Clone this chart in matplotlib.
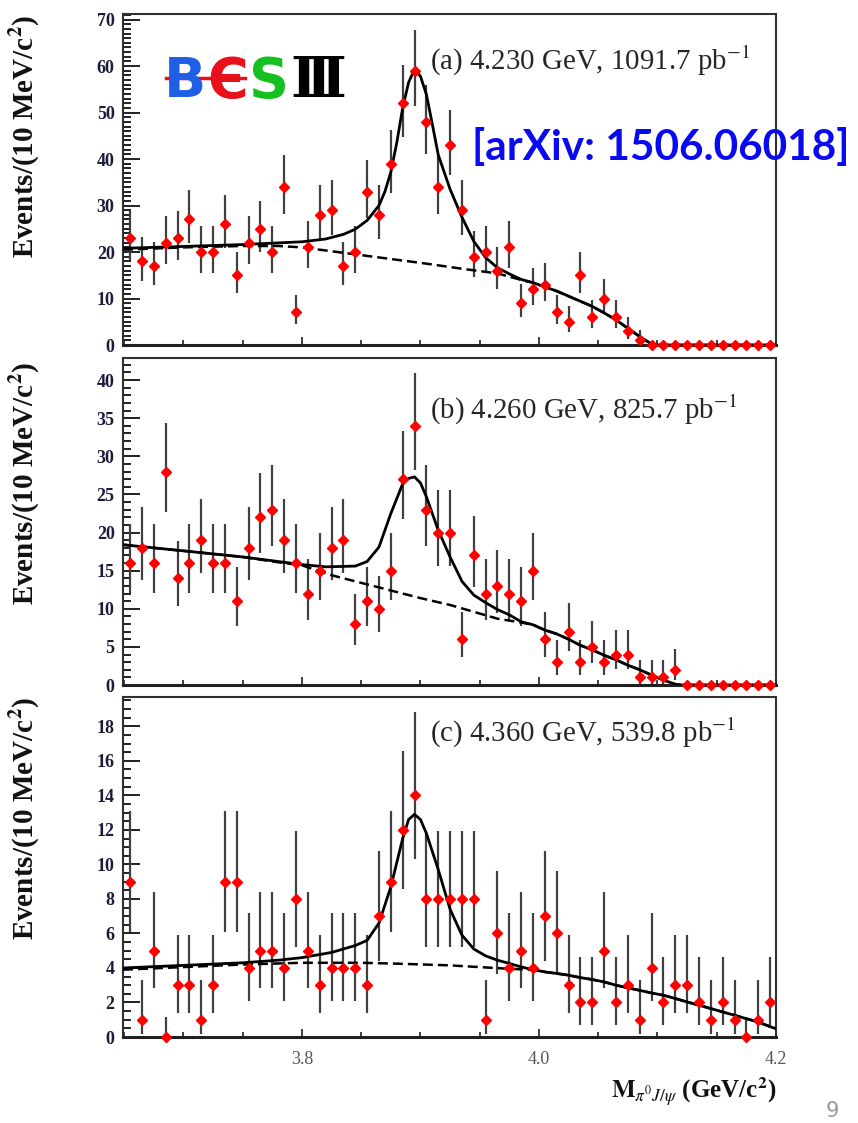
#!/usr/bin/env python3
import numpy as np
import matplotlib
matplotlib.use('Agg')
import matplotlib.pyplot as plt
from matplotlib.ticker import MultipleLocator
from matplotlib.lines import Line2D

# 10 MeV bins in M(pi0 J/psi), first bin centre at 3.655 GeV
bin_lo = 3.65
bin_width = 0.01
n_bins = 55
bins = bin_lo + bin_width * (np.arange(n_bins) + 0.5)

# events per bin
counts_a = [23, 18, 17, 22, 23, 27, 20, 20, 26, 15,
            22, 25, 20, 34, 7, 21, 28, 29, 17, 20,
            33, 28, 39, 52, 59, 48, 34, 43, 29, 19,
            20, 16, 21, 9, 12, 13, 7, 5, 15, 6,
            10, 6, 3, 1, 0, 0, 0, 0, 0, 0,
            0, 0, 0, 0, 0]
counts_b = [16, 18, 16, 28, 14, 16, 19, 16, 16, 11,
            18, 22, 23, 19, 16, 12, 15, 18, 19, 8,
            11, 10, 15, 27, 34, 23, 20, 20, 6, 17,
            12, 13, 12, 11, 15, 6, 3, 7, 3, 5,
            3, 4, 4, 1, 1, 1, 2, 0, 0, 0,
            0, 0, 0, 0, 0]
counts_c = [9, 1, 5, 0, 3, 3, 1, 3, 9, 9,
            4, 5, 5, 4, 8, 5, 3, 4, 4, 4,
            3, 7, 9, 12, 14, 8, 8, 8, 8, 8,
            1, 6, 4, 5, 4, 7, 6, 3, 2, 2,
            5, 2, 3, 1, 4, 2, 3, 3, 2, 1,
            2, 1, 0, 1, 2]

# total fit curves (solid)
fit_a_x = [3.649, 3.70, 3.75, 3.80, 3.82, 3.835, 3.845, 3.855, 3.865, 3.87,
           3.875, 3.88, 3.885, 3.89, 3.895, 3.90, 3.905, 3.91, 3.915, 3.925,
           3.935, 3.945, 3.955, 3.965, 3.975, 3.985, 3.995, 4.005, 4.015, 4.025,
           4.035, 4.045, 4.055, 4.065, 4.075, 4.085, 4.095, 4.10, 4.20]
fit_a_y = [20.8, 21.2, 21.6, 22.2, 22.8, 23.8, 24.9, 26.8, 30.0, 33.0,
           37.2, 43.5, 51.0, 56.5, 59.3, 57.8, 53.9, 47.5, 40.9, 33.5,
           27.5, 22.3, 18.8, 16.6, 15.3, 14.1, 13.4, 12.5, 11.6, 10.5,
           9.4, 8.3, 6.9, 5.4, 3.6, 1.8, 0.2, 0.0, 0.0]
fit_b_x = [3.649, 3.70, 3.75, 3.78, 3.80, 3.82, 3.845, 3.855, 3.865, 3.875,
           3.885, 3.89, 3.895, 3.90, 3.905, 3.915, 3.925, 3.935, 3.945, 3.955,
           3.965, 3.975, 3.985, 3.995, 4.005, 4.015, 4.025, 4.035, 4.045, 4.055,
           4.065, 4.075, 4.085, 4.095, 4.105, 4.115, 4.12, 4.20]
fit_b_y = [18.4, 17.6, 16.8, 16.2, 15.8, 15.5, 15.6, 16.2, 18.1, 22.5,
           26.4, 27.1, 27.3, 26.5, 24.7, 20.3, 16.8, 13.6, 11.8, 10.8,
           9.9, 9.2, 8.3, 7.9, 7.2, 6.7, 6.0, 5.2, 4.6, 3.9,
           3.3, 2.6, 2.0, 1.3, 0.65, 0.1, 0.0, 0.0]
fit_c_x = [3.649, 3.70, 3.75, 3.78, 3.80, 3.825, 3.845, 3.855, 3.865, 3.875,
           3.885, 3.89, 3.895, 3.90, 3.905, 3.915, 3.925, 3.935, 3.945, 3.955,
           3.965, 3.975, 3.985, 3.995, 4.005, 4.015, 4.025, 4.035, 4.045, 4.055,
           4.065, 4.075, 4.085, 4.095, 4.105, 4.115, 4.125, 4.135, 4.145, 4.155,
           4.165, 4.175, 4.185, 4.195, 4.20]
fit_c_y = [4.0, 4.15, 4.3, 4.45, 4.6, 4.9, 5.3, 5.6, 6.6, 8.7,
           11.5, 12.6, 12.9, 12.6, 11.8, 9.7, 7.4, 5.9, 5.1, 4.7,
           4.45, 4.26, 4.06, 3.9, 3.77, 3.68, 3.58, 3.44, 3.33, 3.19,
           3.0, 2.85, 2.7, 2.55, 2.42, 2.23, 2.03, 1.84, 1.65, 1.45,
           1.26, 1.06, 0.87, 0.6, 0.48]

# background curves (dashed), up to where they join the total fit
bkg_a_x = [3.649, 3.70, 3.75, 3.78, 3.80, 3.845, 3.875, 3.905, 3.935, 3.965,
           3.975, 3.985, 3.995]
bkg_a_y = [20.5, 21.0, 21.3, 21.3, 21.0, 19.5, 18.5, 17.5, 16.4, 15.4,
           14.7, 14.0, 13.4]
bkg_b_x = [3.649, 3.70, 3.75, 3.78, 3.80, 3.825, 3.85, 3.875, 3.90, 3.925,
           3.945, 3.965, 3.985, 3.995]
bkg_b_y = [18.4, 17.6, 16.8, 16.1, 15.7, 14.4, 13.4, 12.4, 11.4, 10.5,
           9.6, 8.7, 8.2, 7.9]
bkg_c_x = [3.649, 3.75, 3.80, 3.85, 3.88, 3.925, 3.95, 3.975, 3.995]
bkg_c_y = [3.9, 4.2, 4.3, 4.3, 4.25, 4.15, 4.05, 3.95, 3.9]

labels = [r'(a) 4.230 GeV, 1091.7 pb$^{-1}$',
          r'(b) 4.260 GeV, 825.7 pb$^{-1}$',
          r'(c) 4.360 GeV, 539.8 pb$^{-1}$']

W, H = 858, 1123


def fx(px):
    return px / W


def fy(py):
    return 1 - py / H


def poisson_err(n, zero_up=0.0):
    """Approximate 68% Poisson intervals (Gehrels)."""
    n = np.asarray(n, dtype=float)
    m = np.maximum(n, 1)
    up = np.where(n > 0, np.sqrt(n + 0.75) + 1.0, zero_up)
    lo = np.where(n > 0, n - n * (1 - 1 / (9 * m) - 1 / (3 * np.sqrt(m))) ** 3, 0.0)
    return lo, up


plt.rcParams['mathtext.fontset'] = 'stix'
plt.rcParams['font.family'] = ['Liberation Serif', 'DejaVu Serif']

fig = plt.figure(figsize=(W / 100, H / 100), dpi=100)

panels = [
    dict(counts=counts_a, fx_=fit_a_x, fy_=fit_a_y, bx=bkg_a_x, by=bkg_a_y,
         top=14, bottom=345, ymax=71.2, major=10, minor=1, zero_up=0.0,
         label=labels[0], label_y=61, ylab_top=15),
    dict(counts=counts_b, fx_=fit_b_x, fy_=fit_b_y, bx=bkg_b_x, by=bkg_b_y,
         top=358, bottom=685, ymax=42.9, major=5, minor=1, zero_up=0.0,
         label=labels[1], label_y=410, ylab_top=362),
    dict(counts=counts_c, fx_=fit_c_x, fy_=fit_c_y, bx=bkg_c_x, by=bkg_c_y,
         top=697, bottom=1037, ymax=19.7, major=2, minor=0.5, zero_up=1.15,
         label=labels[2], label_y=733, ylab_top=697),
]

x_left, x_right = 123, 776

for i, p in enumerate(panels):
    ax = fig.add_axes([fx(x_left), fy(p['bottom']), (x_right - x_left) / W,
                       (p['bottom'] - p['top']) / H])
    ax.set_xlim(3.649, 4.2)
    ax.set_ylim(0, p['ymax'])

    # fit curves; background follows the total once they merge
    fit_x = np.array(p['fx_'])
    fit_y = np.array(p['fy_'])
    tail = fit_x > p['bx'][-1]
    bx = np.concatenate([p['bx'], fit_x[tail]])
    by = np.concatenate([p['by'], fit_y[tail]])
    ax.plot(bx, by, color='black', lw=1.8, ls=(0, (4, 2)), zorder=3)
    ax.plot(fit_x, fit_y, color='black', lw=2.0, zorder=3, solid_joinstyle='round')

    lo, up = poisson_err(p['counts'], p['zero_up'])
    ax.errorbar(bins, p['counts'], yerr=[lo, up], fmt='none', ecolor='#404040',
                elinewidth=1.6, capsize=0, zorder=2)
    ax.plot(bins, p['counts'], 'D', color='#ff0000', mec='#ff0000', ms=4.8,
            zorder=4, clip_on=False)

    for side in ['top', 'right', 'left']:
        ax.spines[side].set_linewidth(1.5)
        ax.spines[side].set_color('#303030')
    ax.spines['bottom'].set_linewidth(2.2)
    ax.spines['bottom'].set_color('#202020')

    yt = np.arange(0, p['ymax'] + 1e-9, p['major'])
    ax.set_yticks(yt, labels=[f'{v:g}' for v in yt], fontweight='bold')
    ax.yaxis.set_minor_locator(MultipleLocator(p['minor']))
    ax.tick_params(axis='y', which='both', direction='in', left=True, right=False,
                   labelsize=13, pad=6, labelcolor='#1c1c3a', width=1.4, color='#202020')
    ax.tick_params(axis='y', which='major', length=12)
    ax.tick_params(axis='y', which='minor', length=6)

    ax.set_xticks([3.8, 4.0, 4.2], labels=['3.8', '4.0', '4.2'])
    ax.xaxis.set_minor_locator(MultipleLocator(0.05))
    ax.tick_params(axis='x', which='both', direction='in', top=False, bottom=True,
                   width=1.2, color='#202020', labelsize=13, labelcolor='#555555', pad=10)
    ax.tick_params(axis='x', which='major', length=6)
    ax.tick_params(axis='x', which='minor', length=3.5)
    if i < 2:
        ax.tick_params(axis='x', labelbottom=False)

    fig.text(fx(430), fy(p['label_y']), p['label'], fontsize=20.8, va='center',
             color='#262626')
    fig.text(fx(25), fy(p['ylab_top']), r'Events/(10 MeV/c$^{\mathbf{2}}$)',
             rotation=90, ha='center', va='top', fontsize=21, fontweight='bold',
             color='#111111')

# x axis title
fig.text(fx(776), fy(1092), r'$\mathbf{M}_{\pi^{0}J/\psi}$ (GeV/c$^{\mathbf{2}}$)',
         ha='right', va='center', fontsize=18, fontweight='bold', color='#111111')

# reference tag
fig.text(fx(472), fy(148), '[arXiv: 1506.06018]', family='Lato', fontweight='bold',
         fontsize=30.5, color='#0a0af0', va='center')

# experiment logo, letters placed one after the other
logo_letters = ['B', 'Є', 'S', 'Ⅲ']
logo_colors = ['#1f5fe6', '#e8101a', '#15c020', '#000000']
renderer = fig.canvas.get_renderer()
x_cur = 164
extents = []
for ch, col in zip(logo_letters, logo_colors):
    fam = 'DejaVu Serif' if ch == 'Ⅲ' else 'DejaVu Sans'
    t = fig.text(fx(x_cur), fy(97), ch, family=fam, fontweight='bold',
                 fontsize=40, color=col, ha='left', va='baseline')
    bb = t.get_window_extent(renderer)
    extents.append(bb)
    x_cur = bb.x1 + 1
# red bar through B and E
bar_y = (extents[0].y0 + extents[0].y1) / 2 / H + 0.004
fig.add_artist(Line2D([extents[0].x0 / W + 0.002, extents[1].x1 / W - 0.004],
                      [bar_y, bar_y], color='#e8101a', lw=2.5))

# slide page number at the lower edge
fig.text(fx(826), fy(1121), '9', family='DejaVu Sans', fontsize=15, color='#999999',
         va='bottom')

fig.savefig('out.png', dpi=100)
